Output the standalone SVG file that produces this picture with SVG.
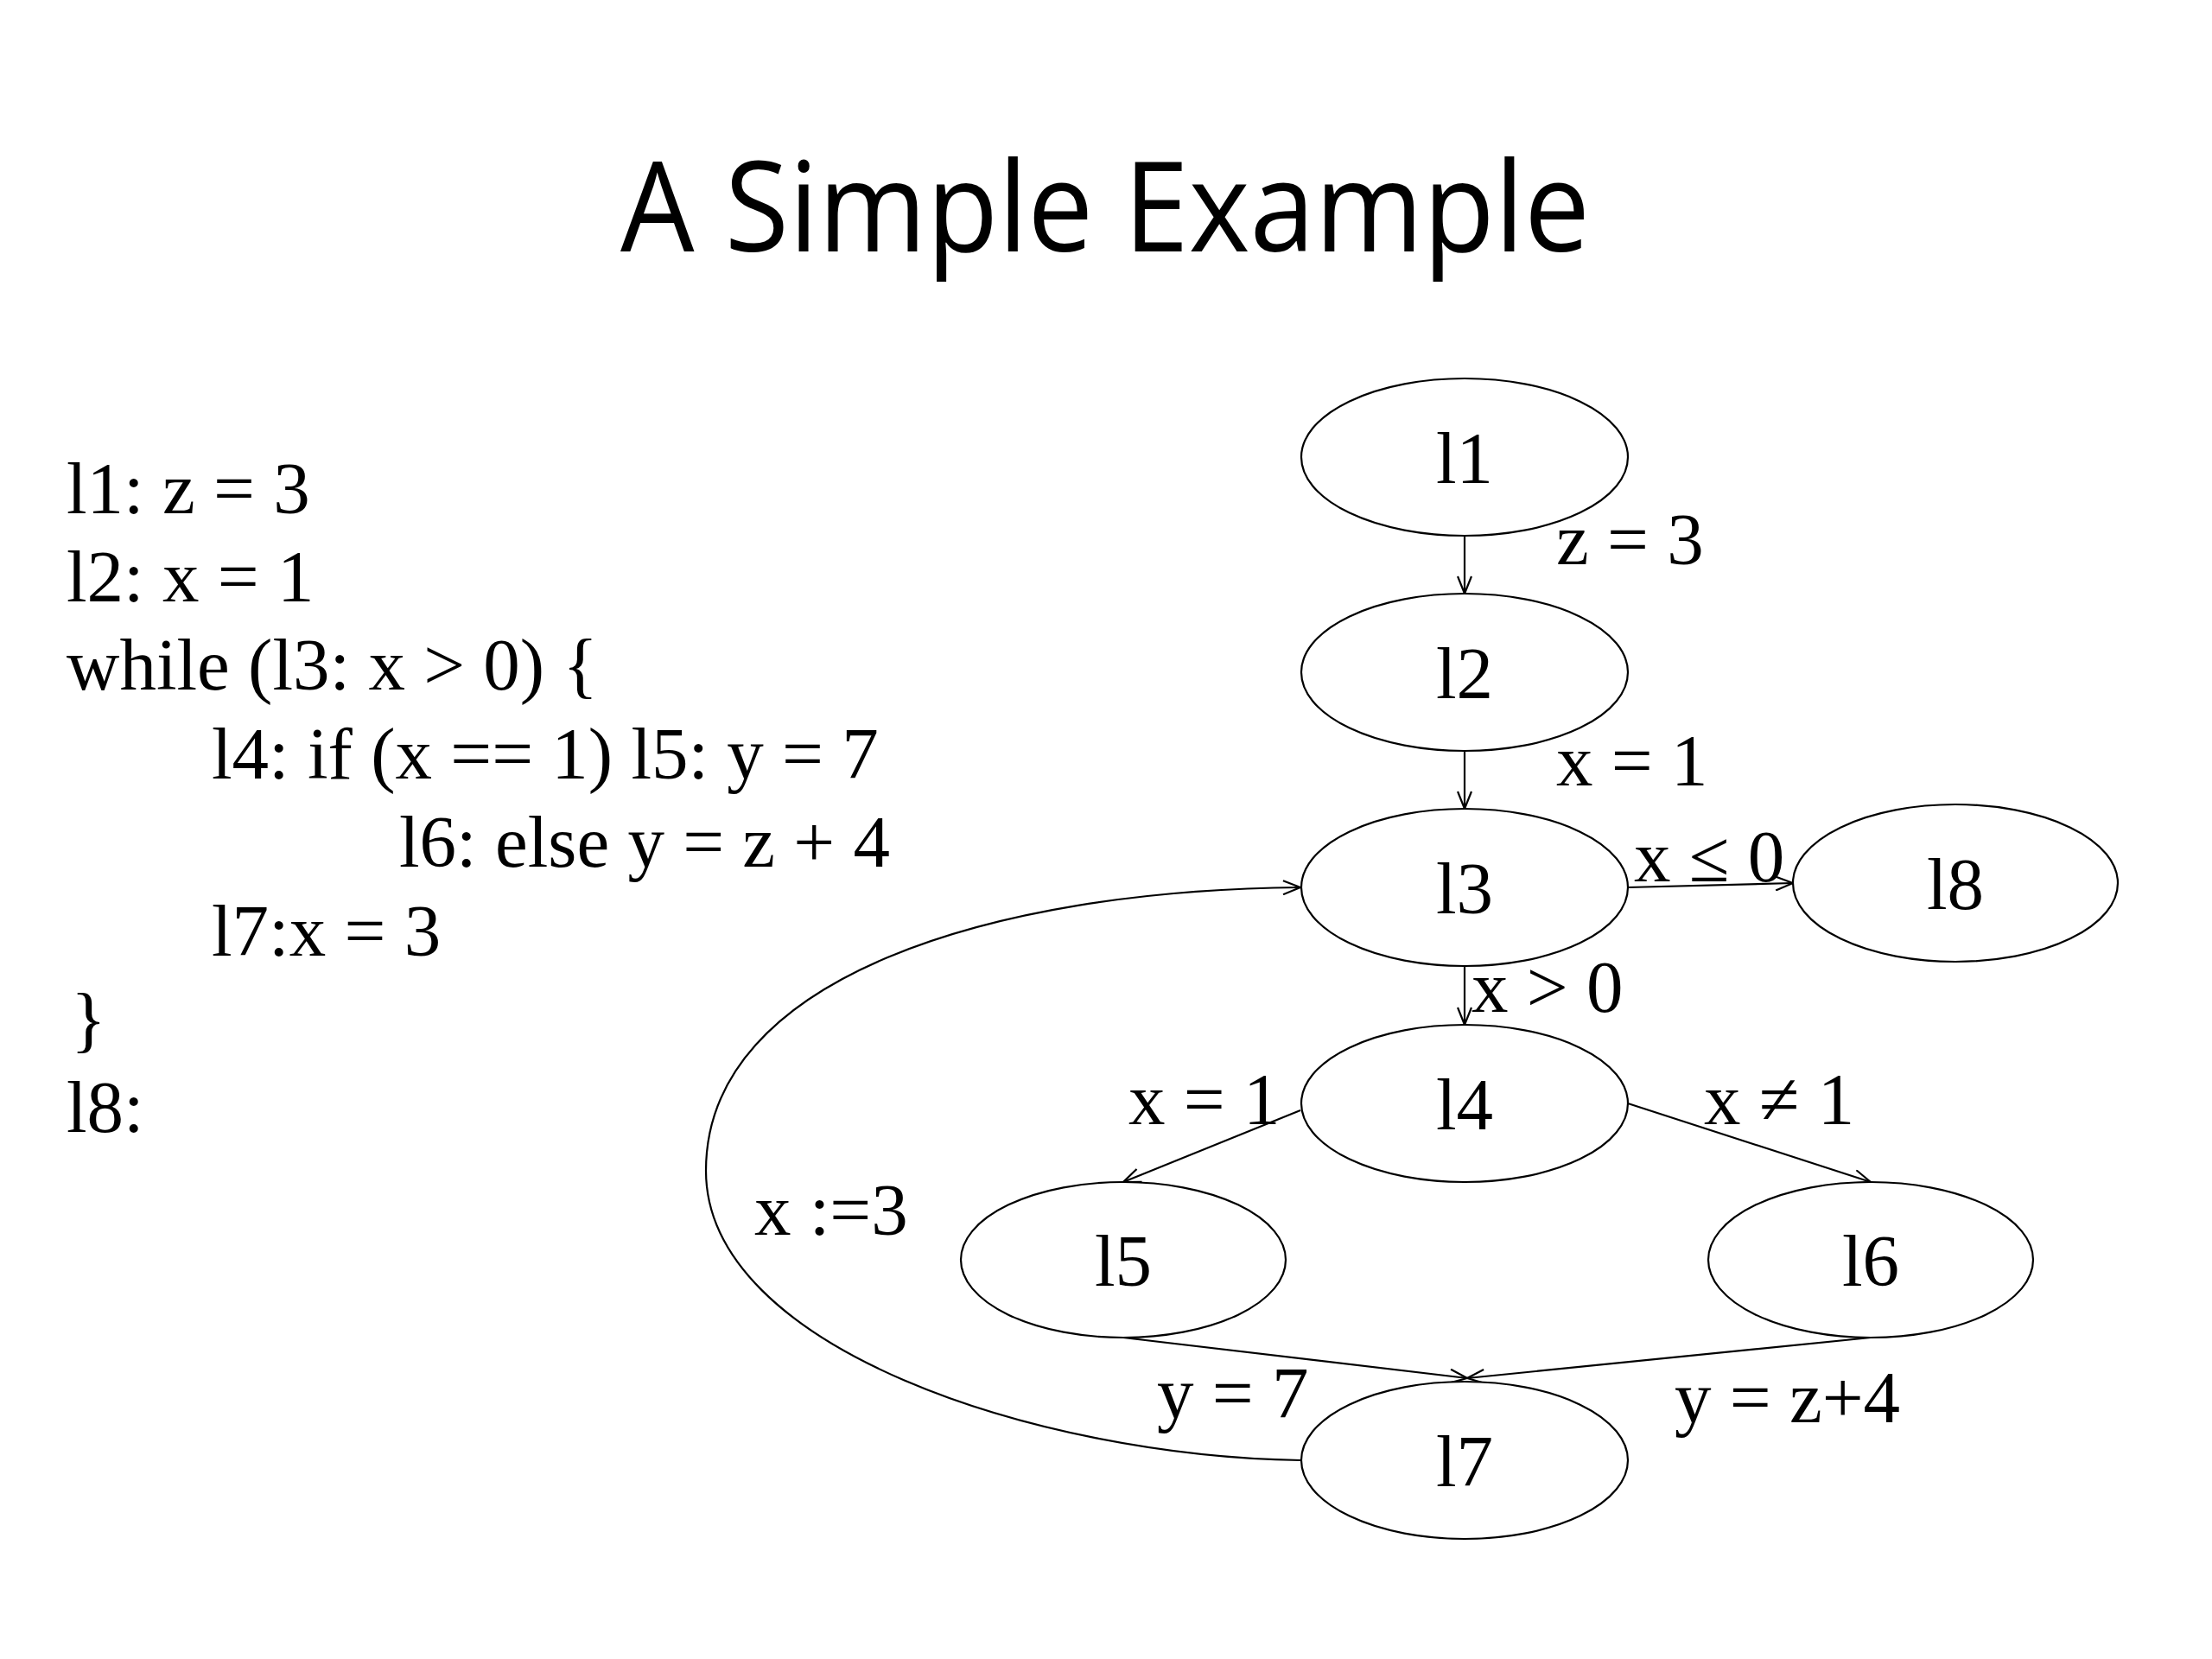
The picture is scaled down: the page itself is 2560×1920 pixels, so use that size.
<svg xmlns="http://www.w3.org/2000/svg" width="2560" height="1920" viewBox="0 0 2560 1920">
<defs>
<style>
.code{font-family:"Liberation Serif","Times New Roman",serif;font-size:85px;fill:#000}
.lbl{font-family:"Liberation Serif","Times New Roman",serif;font-size:85px;fill:#000}
.nl{font-family:"Liberation Serif","Times New Roman",serif;font-size:85px;fill:#000;text-anchor:middle}
.node ellipse{fill:#fff;stroke:#000;stroke-width:2.2}
.edge{fill:none;stroke:#000;stroke-width:2.2;marker-end:url(#arr)}
</style>
<marker id="arr" viewBox="0 0 22 18" refX="21" refY="9" markerWidth="22" markerHeight="18" orient="auto" markerUnits="userSpaceOnUse">
<path d="M1,1 L21,9 L1,17" fill="none" stroke="#000" stroke-width="2.2"/>
</marker>
</defs>
<rect width="2560" height="1920" fill="#fff"/>
<text x="1279" y="291" font-family="'Open Sans','Noto Sans',sans-serif" font-size="145" text-anchor="middle" textLength="1122" lengthAdjust="spacingAndGlyphs">A Simple Example</text>
<g id="code">
<text class="code" x="77" y="594">l1: z = 3</text>
<text class="code" x="77" y="696">l2: x = 1</text>
<text class="code" x="77" y="798">while (l3: x &gt; 0) {</text>
<text class="code" x="245" y="901">l4: if (x == 1) l5: y = 7</text>
<text class="code" x="462" y="1003">l6: else y = z + 4</text>
<text class="code" x="245" y="1106">l7:x = 3</text>
<text class="code" x="82" y="1208">}</text>
<text class="code" x="77" y="1310">l8:</text>
</g>
<g id="connectors">
<path class="edge" d="M1695,620 L1695,687"/>
<path class="edge" d="M1695,869 L1695,936"/>
<path class="edge" d="M1884,1027 L2075,1022"/>
<path class="edge" d="M1695,1118 L1695,1186"/>
<path class="edge" d="M1505,1285 L1300,1368"/>
<path class="edge" d="M1884,1277 L2165,1368"/>
<path class="edge" d="M1300,1548 L1698,1595"/>
<path class="edge" d="M2165,1548 L1698,1595"/>
<path class="edge" d="M1505,1690 C1200,1685 817,1560 817,1355 C817,1130 1150,1030 1505,1027"/>
</g>
<g id="edge-labels">
<text class="lbl" x="1801" y="653">z = 3</text>
<text class="lbl" x="1801" y="909">x = 1</text>
<text class="lbl" x="1891" y="1020">x ≤ 0</text>
<text class="lbl" x="1703" y="1171">x &gt; 0</text>
<text class="lbl" x="1306" y="1301">x = 1</text>
<text class="lbl" x="1972" y="1301">x ≠ 1</text>
<text class="lbl" x="873" y="1429">x :=3</text>
<text class="lbl" x="1339" y="1641">y = 7</text>
<text class="lbl" x="1938" y="1646">y = z+4</text>
</g>
<g id="node-l1" class="node"><ellipse cx="1695" cy="529" rx="189" ry="91"/><text class="nl" x="1695" y="559">l1</text></g>
<g id="node-l2" class="node"><ellipse cx="1695" cy="778" rx="189" ry="91"/><text class="nl" x="1695" y="808">l2</text></g>
<g id="node-l3" class="node"><ellipse cx="1695" cy="1027" rx="189" ry="91"/><text class="nl" x="1695" y="1057">l3</text></g>
<g id="node-l8" class="node"><ellipse cx="2263" cy="1022" rx="188" ry="91"/><text class="nl" x="2263" y="1052">l8</text></g>
<g id="node-l4" class="node"><ellipse cx="1695" cy="1277" rx="189" ry="91"/><text class="nl" x="1695" y="1307">l4</text></g>
<g id="node-l5" class="node"><ellipse cx="1300" cy="1458" rx="188" ry="90"/><text class="nl" x="1300" y="1488">l5</text></g>
<g id="node-l6" class="node"><ellipse cx="2165" cy="1458" rx="188" ry="90"/><text class="nl" x="2165" y="1488">l6</text></g>
<g id="node-l7" class="node"><ellipse cx="1695" cy="1690" rx="189" ry="91"/><text class="nl" x="1695" y="1720">l7</text></g>
</svg>
